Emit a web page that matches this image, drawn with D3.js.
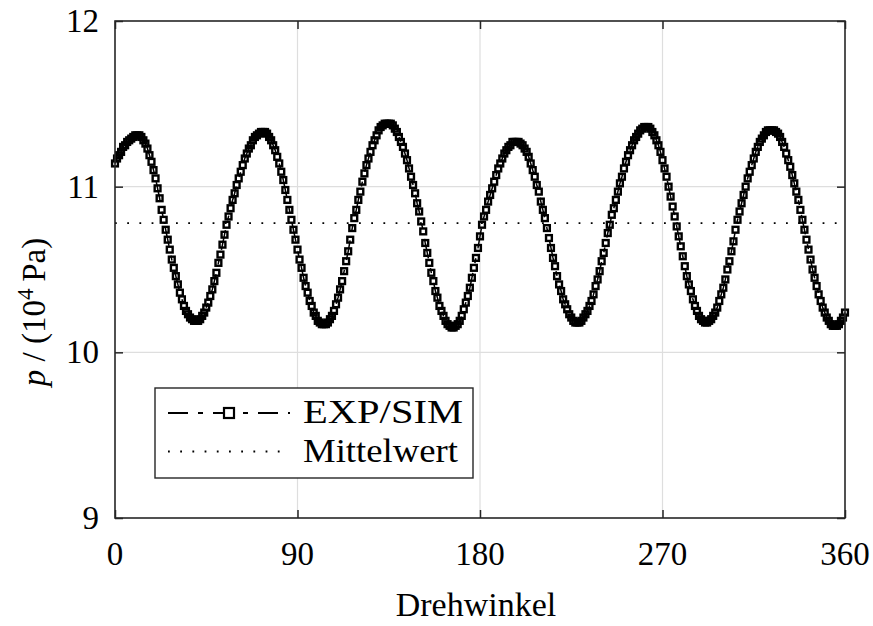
<!DOCTYPE html>
<html>
<head>
<meta charset="utf-8">
<script src="https://cdn.jsdelivr.net/npm/d3@7"></script>
<style>
  html, body { margin: 0; padding: 0; background: #fff; }
  svg { display: block; }
</style>
</head>
<body>
<svg id="chart" width="873" height="626"></svg>
<script>
// ---------------- data ----------------
const xTicks = [0, 90, 180, 270, 360];
const yTicks = [9, 10, 11, 12];
const meanValue = 10.78;
const seriesName = "EXP/SIM";
const meanName = "Mittelwert";
const xLabel = "Drehwinkel";
// pressure p (10^4 Pa) sampled every 1 degree from 0 to 360
const angles = d3.range(0, 361, 1);
const pressure = [
  11.14, 11.17, 11.19, 11.21, 11.24, 11.25, 11.27, 11.28, 11.29, 11.30, 11.31, 11.31,
  11.31, 11.30, 11.28, 11.26, 11.23, 11.19, 11.15, 11.10, 11.05, 10.99, 10.93, 10.86, 10.80,
  10.74, 10.68, 10.62, 10.56, 10.51, 10.46, 10.41, 10.36, 10.32, 10.28, 10.25, 10.23, 10.21, 10.20, 10.19,
  10.19, 10.19, 10.20, 10.22, 10.24, 10.27, 10.30, 10.34, 10.38, 10.43, 10.48, 10.54, 10.59, 10.65, 10.71, 10.77,
  10.82, 10.87, 10.92, 10.96, 11.01, 11.05, 11.09, 11.13, 11.17, 11.20, 11.23, 11.25, 11.28, 11.30, 11.31, 11.32, 11.33, 11.33,
  11.33, 11.32, 11.30, 11.28, 11.25, 11.22, 11.18, 11.14, 11.09, 11.04, 10.98, 10.92, 10.86, 10.80,
  10.74, 10.68, 10.62, 10.56, 10.51, 10.45, 10.40, 10.36, 10.31, 10.28, 10.24, 10.22, 10.19, 10.18, 10.17, 10.17,
  10.17, 10.18, 10.20, 10.22, 10.25, 10.29, 10.33, 10.38, 10.43, 10.49, 10.55, 10.61, 10.68, 10.75,
  10.81, 10.86, 10.92, 10.97, 11.03, 11.08, 11.13, 11.17, 11.21, 11.25, 11.28, 11.31, 11.34, 11.36, 11.37, 11.38, 11.38,
  11.38, 11.38, 11.37, 11.35, 11.33, 11.30, 11.27, 11.24, 11.20, 11.16, 11.11, 11.06, 11.01, 10.96, 10.90, 10.85, 10.79,
  10.73, 10.66, 10.60, 10.54, 10.48, 10.43, 10.37, 10.33, 10.28, 10.25, 10.22, 10.19, 10.17, 10.16, 10.15,
  10.15, 10.16, 10.17, 10.19, 10.22, 10.26, 10.30, 10.34, 10.39, 10.45, 10.51, 10.57, 10.63, 10.70, 10.77,
  10.82, 10.86, 10.91, 10.95, 10.99, 11.03, 11.07, 11.11, 11.14, 11.17, 11.20, 11.22, 11.24, 11.25, 11.27, 11.27, 11.27,
  11.27, 11.26, 11.25, 11.23, 11.21, 11.18, 11.14, 11.10, 11.06, 11.01, 10.97, 10.91, 10.86, 10.81,
  10.75, 10.69, 10.63, 10.57, 10.52, 10.46, 10.41, 10.37, 10.32, 10.29, 10.26, 10.23, 10.21, 10.19, 10.18, 10.18,
  10.18, 10.19, 10.21, 10.23, 10.25, 10.28, 10.31, 10.35, 10.40, 10.44, 10.49, 10.55, 10.60, 10.66, 10.72, 10.77,
  10.83, 10.87, 10.92, 10.97, 11.02, 11.06, 11.11, 11.15, 11.19, 11.22, 11.25, 11.28, 11.30, 11.32, 11.34, 11.35, 11.36, 11.36,
  11.36, 11.35, 11.33, 11.31, 11.28, 11.25, 11.21, 11.16, 11.11, 11.06, 11.00, 10.94, 10.88, 10.82,
  10.76, 10.70, 10.64, 10.58, 10.52, 10.46, 10.41, 10.37, 10.32, 10.28, 10.25, 10.22, 10.20, 10.19, 10.18, 10.18,
  10.19, 10.20, 10.22, 10.24, 10.27, 10.31, 10.35, 10.39, 10.44, 10.50, 10.55, 10.61, 10.67, 10.74,
  10.80, 10.85, 10.90, 10.95, 11.00, 11.05, 11.09, 11.13, 11.17, 11.21, 11.24, 11.27, 11.29, 11.31, 11.33, 11.34, 11.34, 11.34,
  11.34, 11.33, 11.32, 11.30, 11.27, 11.24, 11.20, 11.16, 11.12, 11.07, 11.02, 10.97, 10.92, 10.86, 10.80,
  10.74, 10.68, 10.62, 10.56, 10.50, 10.45, 10.40, 10.35, 10.31, 10.27, 10.24, 10.21, 10.19, 10.17, 10.16, 10.16, 10.16, 10.17, 10.19, 10.21, 10.24
];

// ---------------- layout ----------------
const L = 115, R = 845, T = 21, B = 518;
const axisColor = "#262626";
const gridColor = "#dedede";
const tickLen = 8;
const serif = "'Liberation Serif'";
const fs = "33px";

const svg = d3.select("#chart");
const x = d3.scaleLinear().domain([0, 360]).range([L, R]);
const y = d3.scaleLinear().domain([9, 12]).range([B, T]);

// helper: serif text node
function stext(parent, size) {
  return parent.append("text").style("font-family", serif).style("font-size", size || fs).attr("fill", "#000");
}

// grid
const grid = svg.append("g");
grid.selectAll("line.gx").data(xTicks.filter(d => d > 0 && d < 360)).join("line")
  .attr("x1", d => x(d)).attr("x2", d => x(d)).attr("y1", T).attr("y2", B)
  .attr("stroke", gridColor).attr("stroke-width", 1.2);
grid.selectAll("line.gy").data(yTicks.filter(d => d > 9 && d < 12)).join("line")
  .attr("x1", L).attr("x2", R).attr("y1", d => y(d)).attr("y2", d => y(d))
  .attr("stroke", gridColor).attr("stroke-width", 1.2);

// axes: ticks inside on all four sides (labels drawn as own text nodes)
function styleAxis(g) {
  g.select(".domain").remove();
  g.selectAll(".tick text").remove();
  g.selectAll(".tick line").attr("stroke", axisColor).attr("stroke-width", 1.5);
}
svg.append("g").attr("transform", `translate(0,${B})`)
  .call(d3.axisBottom(x).tickValues(xTicks).tickSize(-tickLen)).call(styleAxis);
svg.append("g").attr("transform", `translate(${L},0)`)
  .call(d3.axisLeft(y).tickValues(yTicks).tickSize(-tickLen)).call(styleAxis);
svg.append("g").attr("transform", `translate(0,${T})`)
  .call(d3.axisTop(x).tickValues(xTicks).tickSize(-tickLen)).call(styleAxis);
svg.append("g").attr("transform", `translate(${R},0)`)
  .call(d3.axisRight(y).tickValues(yTicks).tickSize(-tickLen)).call(styleAxis);

const tl = svg.append("g");
xTicks.forEach(v => {
  stext(tl).attr("x", x(v)).attr("y", 565).attr("text-anchor", "middle").text(d3.format("d")(v));
});
yTicks.forEach(v => {
  stext(tl).attr("x", 99).attr("y", y(v) + 11).attr("text-anchor", "end").text(d3.format("d")(v));
});

// mean line (dotted)
svg.append("line")
  .attr("x1", x(0)).attr("x2", x(360)).attr("y1", y(meanValue)).attr("y2", y(meanValue))
  .attr("stroke", "#000").attr("stroke-width", 1.8).attr("stroke-dasharray", "1.8,10.4");

// series line (dash-dot) + square markers
const pts = angles.map((a, i) => [a, pressure[i]]);
svg.append("path").datum(pts)
  .attr("d", d3.line().x(d => x(d[0])).y(d => y(d[1])))
  .attr("fill", "none").attr("stroke", "#000").attr("stroke-width", 1.5)
  .attr("stroke-dasharray", "20,10,5,10");
const ms = 5.8;
svg.append("g").selectAll("rect").data(pts).join("rect")
  .attr("x", d => x(d[0]) - ms / 2).attr("y", d => y(d[1]) - ms / 2)
  .attr("width", ms).attr("height", ms)
  .attr("fill", "none").attr("stroke", "#000").attr("stroke-width", 2.4);

// frame
svg.append("rect").attr("x", L).attr("y", T).attr("width", R - L).attr("height", B - T)
  .attr("fill", "none").attr("stroke", axisColor).attr("stroke-width", 1.6);

// axis labels
stext(svg, "34px").attr("x", 476).attr("y", 616).attr("text-anchor", "middle").text(xLabel);

const yl = stext(svg).attr("transform", "translate(45,312) rotate(-90)").attr("text-anchor", "middle");
yl.append("tspan").style("font-style", "italic").text("p");
yl.append("tspan").text(" / (10");
yl.append("tspan").attr("dy", -12).style("font-size", "23px").text("4");
yl.append("tspan").attr("dy", 12).text("\u2009Pa)");

// legend
const lg = svg.append("g");
lg.append("rect").attr("x", 155).attr("y", 388).attr("width", 318).attr("height", 90)
  .attr("fill", "#fff").attr("stroke", axisColor).attr("stroke-width", 1.4);
const r1 = 413, r2 = 451.5;
lg.append("line").attr("x1", 168).attr("x2", 290).attr("y1", r1).attr("y2", r1)
  .attr("stroke", "#000").attr("stroke-width", 1.8).attr("stroke-dasharray", "20,10,5,10");
lg.append("rect").attr("x", 229 - 5).attr("y", r1 - 5).attr("width", 10).attr("height", 10)
  .attr("fill", "#fff").attr("stroke", "#000").attr("stroke-width", 2.2);
lg.append("line").attr("x1", 168).attr("x2", 290).attr("y1", r2).attr("y2", r2)
  .attr("stroke", "#000").attr("stroke-width", 1.8).attr("stroke-dasharray", "1.8,10.4");
stext(lg).attr("x", 303).attr("y", 423)
  .attr("textLength", 160).attr("lengthAdjust", "spacingAndGlyphs").text(seriesName);
stext(lg).attr("x", 303).attr("y", 461.5)
  .attr("textLength", 155).attr("lengthAdjust", "spacingAndGlyphs").text(meanName);
</script>
</body>
</html>
